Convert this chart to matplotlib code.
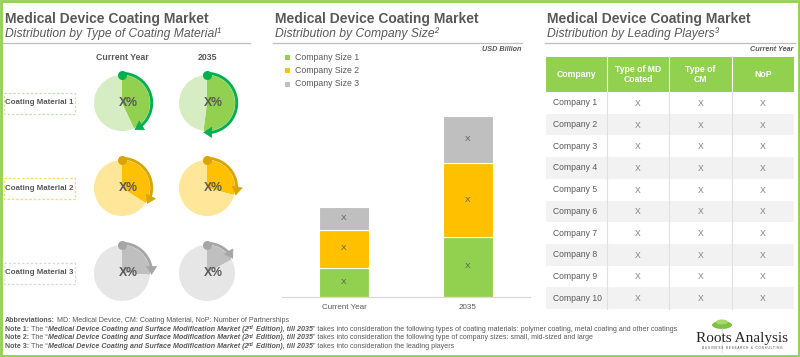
import matplotlib
matplotlib.use('Agg')
import matplotlib.pyplot as plt
import numpy as np
from matplotlib.patches import Rectangle, Ellipse

plt.rcParams['font.family'] = ['Liberation Sans', 'DejaVu Sans']

# ---- data ----
title = 'Medical Device Coating Market'
materials = ['Coating Material 1', 'Coating Material 2', 'Coating Material 3']
pie_years = ['Current Year', '2035']
share_current = [0.43, 0.34, 0.26]
share_2035 = [0.52, 0.29, 0.17]

bar_years = ['Current Year', '2035']
size_labels = ['Company Size 1', 'Company Size 2', 'Company Size 3']
size1 = [2.9, 6.0]
size2 = [3.8, 7.4]
size3 = [2.3, 4.7]

table_cols = ['Company', 'Type of MD\nCoated', 'Type of\nCM', 'NoP']
companies = ['Company %d' % i for i in range(1, 11)]
cell_value = 'X'

notes_head = 'Medical Device Coating and Surface Modification Market (2'
notes_tail = [
    'takes into consideration the following types of coating materials: polymer coating, metal coating and other coatings',
    'takes into consideration the following type of company sizes: small, mid-sized and large',
    'takes into consideration the leading players',
]

# ---- styles ----
GREY_TXT = '#595959'
pie_dark = ['#92D050', '#FFC000', '#BFBFBF']
pie_light = ['#D6ECC3', '#FFE699', '#E6E6E6']
arc_col = ['#00B050', '#DBA400', '#A6A6A6']
box_col = ['#C5E0B4', '#FFD966', '#D9D9D9']
bar_cols = ['#92D050', '#FFC000', '#BFBFBF']

W, H = 800, 357
fig = plt.figure(figsize=(W / 100, H / 100), dpi=100)
ov = fig.add_axes([0, 0, 1, 1])
ov.set_xlim(0, W)
ov.set_ylim(H, 0)
ov.axis('off')

# outer green frame
ov.add_patch(Rectangle((1, 1), W - 2, H - 2, fill=False, ec='#92D050', lw=2))

subtitles = ['Distribution by Type of Coating Material\u00b9',
             'Distribution by Company Size\u00b2',
             'Distribution by Leading Players\u00b3']
for x0, x1, sub in [(5, 250, subtitles[0]), (275, 522, subtitles[1]), (547, 795, subtitles[2])]:
    ov.text(x0, 23, title, fontsize=10, fontweight='bold', color=GREY_TXT, va='baseline')
    ov.text(x0, 36.5, sub, fontsize=8.7, fontstyle='italic', color=GREY_TXT, va='baseline')
    ov.plot([x0 - 2, x1], [43, 43], color='#BFBFBF', lw=0.9)

# ---- left panel: pies ----
pie_x = [122, 207]
pie_y = [103, 188, 273]
R = 28.0
for j, yr in enumerate(pie_years):
    ov.text(pie_x[j], 60, yr, fontsize=6.3, fontweight='bold', color=GREY_TXT,
            ha='center', va='baseline')

for i, mat in enumerate(materials):
    cy = pie_y[i]
    ov.add_patch(Rectangle((3.5, cy - 10.5), 71, 21, fill=False, ec=box_col[i],
                           lw=0.9, ls=(0, (2, 1.5))))
    ov.text(39, cy, mat, fontsize=5.7, fontweight='bold', color=GREY_TXT,
            ha='center', va='center')
    for j, f in enumerate([share_current[i], share_2035[i]]):
        cx = pie_x[j]
        ax = fig.add_axes([(cx - 40) / W, (H - cy - 40) / H, 80 / W, 80 / H])
        ax.set_zorder(3)
        ax.pie([f, 1 - f], colors=[pie_dark[i], pie_light[i]], startangle=90,
               counterclock=False, radius=1, wedgeprops=dict(linewidth=0))
        lim = 40 / R
        ax.set_xlim(-lim, lim)
        ax.set_ylim(-lim, lim)
        ax.axis('off')
        # arc with arrow
        ra = 1.06
        th = np.radians(90 - np.linspace(0, 360 * f, 100))
        ax.plot(ra * np.cos(th[:-6]), ra * np.sin(th[:-6]), color=arc_col[i],
                lw=2.1, solid_capstyle='butt')
        ax.annotate('', xy=(ra * np.cos(th[-1]), ra * np.sin(th[-1])),
                    xytext=(ra * np.cos(th[-9]), ra * np.sin(th[-9])),
                    arrowprops=dict(arrowstyle='-|>,head_length=0.7,head_width=0.45',
                                    color=arc_col[i], lw=0.5,
                                    mutation_scale=8, shrinkA=0, shrinkB=0))
        ax.plot([0], [1.0], 'o', color=arc_col[i], ms=6.5, mec='none')
        ax.text(0.22, 0, 'X%', fontsize=8.8, fontweight='bold', color=GREY_TXT,
                ha='center', va='center')

# ---- middle panel: stacked bars ----
ov.text(521, 51, 'USD Billion', fontsize=5.2, fontweight='bold', fontstyle='italic',
        color=GREY_TXT, ha='right', va='baseline')
for k, lab in enumerate(size_labels):
    yy = 57 + 13.5 * k
    ov.add_patch(Rectangle((285, yy - 2.5), 5, 5, color=bar_cols[k], lw=0))
    ov.text(295, yy, lab, fontsize=6.3, color=GREY_TXT, va='center')

bx = fig.add_axes([282 / W, (H - 297) / H, 248 / W, 200 / H])
bx.set_zorder(2)
bx.patch.set_alpha(0)
xpos = np.arange(len(bar_years))
bottom = np.zeros(len(bar_years))
for k, vals in enumerate([size1, size2, size3]):
    vals = np.array(vals)
    bx.bar(xpos, vals, 0.4, bottom=bottom, color=bar_cols[k], edgecolor='white', lw=0.8)
    for xp, b, v in zip(xpos, bottom, vals):
        bx.text(xp, b + v / 2, 'X', ha='center', va='center', fontsize=6, color=GREY_TXT)
    bottom += vals
bx.set_xlim(-0.5, 1.5)
bx.set_ylim(0, 20)
bx.set_yticks([])
bx.set_xticks(xpos)
bx.set_xticklabels(bar_years, fontsize=5.8, color=GREY_TXT)
bx.tick_params(axis='x', length=0, pad=5)
for s in ['top', 'right', 'left']:
    bx.spines[s].set_visible(False)
bx.spines['bottom'].set_color('#D9D9D9')
bx.spines['bottom'].set_linewidth(0.9)

# ---- right panel: table ----
ov.text(793, 51, 'Current Year', fontsize=5.2, fontweight='bold', fontstyle='italic',
        color=GREY_TXT, ha='right', va='baseline')
col_x = [546, 607, 669, 732, 794]
top, head_h, row_h = 57, 35, 21.7
ov.add_patch(Rectangle((col_x[0], top), col_x[-1] - col_x[0], head_h, color='#92D050', lw=0))
for c, lab in enumerate(table_cols):
    xc = (col_x[c] + col_x[c + 1]) / 2
    ov.text(xc, top + head_h / 2, lab, fontsize=6.2, fontweight='bold', color='white',
            ha='center', va='center', linespacing=1.1)
for r, comp in enumerate(companies):
    y0 = top + head_h + r * row_h
    if r % 2 == 1:
        ov.add_patch(Rectangle((col_x[0], y0), col_x[-1] - col_x[0], row_h, color='#F2F2F2', lw=0))
    ov.text(col_x[0] + 7, y0 + row_h / 2, comp, fontsize=6.2, color=GREY_TXT, va='center')
    for c in range(1, 4):
        xc = (col_x[c] + col_x[c + 1]) / 2
        ov.text(xc, y0 + row_h / 2 + 0.5, cell_value, fontsize=6.2, color='#7F7F7F',
                ha='center', va='center')
for c in range(1, 4):
    ov.plot([col_x[c], col_x[c]], [top, top + head_h], color='white', lw=0.8)
    ov.plot([col_x[c], col_x[c]], [top + head_h, top + head_h + 10 * row_h],
            color='#E0E0E0', lw=0.8)

# ---- footnotes ----
renderer = fig.canvas.get_renderer()
FS = 5.15
SP = 0.278 * FS * 100 / 72


def rich(x, y, parts):
    for txt, bold, ital, sup in parts:
        lead = len(txt) - len(txt.lstrip(' '))
        trail = len(txt) - len(txt.rstrip(' '))
        x += lead * SP
        s = txt.strip(' ')
        t = ov.text(x, y - (1.7 if sup else 0), s, fontsize=FS * (0.65 if sup else 1),
                    fontweight='bold' if bold else 'normal',
                    fontstyle='italic' if ital else 'normal',
                    color=GREY_TXT, va='baseline')
        x += t.get_window_extent(renderer).width + trail * SP


rich(5, 322.5, [('Abbreviations: ', True, False, False),
                ('MD: Medical Device, CM: Coating Material, NoP: Number of Partnerships', False, False, False)])
for n, tail in enumerate(notes_tail):
    rich(5, 331 + 8.3 * n, [('Note %d: ' % (n + 1), True, False, False),
                            ('The \u201c', False, False, False),
                            (notes_head, True, True, False),
                            ('nd', True, True, True),
                            (' Edition), till 2035', True, True, False),
                            ('\u201d ' + tail, False, False, False)])

# ---- logo ----
ov.add_patch(Ellipse((722, 325), 20, 8, color='#7DC242', lw=0))
ov.add_patch(Ellipse((722, 322), 12, 5, color='#A6D86B', lw=0))
ov.plot([722, 722], [328, 352], color='#DDDDDD', lw=0.6)
ov.text(742, 342, 'Roots Analysis', family=['Liberation Serif', 'DejaVu Serif'],
        fontsize=11, color='#262626', ha='center', va='baseline')
ov.text(742, 349, 'B U S I N E S S   R E S E A R C H   &   C O N S U L T I N G',
        fontsize=2.2, color='#404040', ha='center', va='baseline')

fig.savefig('out.png', dpi=100)
